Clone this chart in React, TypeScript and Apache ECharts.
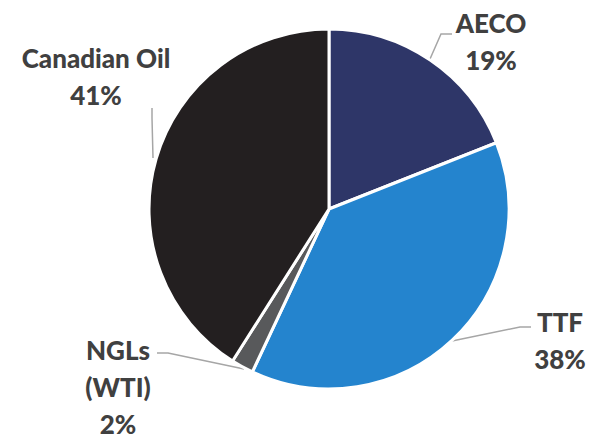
import React, { useEffect, useRef } from "react";
import * as echarts from "echarts";

const categories = ["AECO", "TTF", "NGLs\n(WTI)", "Canadian Oil"];
const values = [19, 38, 2, 41];
const colors = ["#2E3668", "#2484CE", "#58595B", "#231F20"];

// label anchor (text centre) and leader-line points, per slice
const labelPos = [
  { x: 491, y: 41 },
  { x: 560, y: 340 },
  { x: 118, y: 387 },
  { x: 96, y: 76 },
];
const linePts = [
  [[430, 59], [441, 34], [452, 34]],
  [[452, 341], [520, 327], [531, 327]],
  [[244, 369], [168, 353], [157, 353]],
  [[153, 158], [152, 118], [152, 108]],
];

export default function App() {
  const ref = useRef<HTMLDivElement>(null);
  useEffect(() => {
    document.body.style.margin = "0";
    const chart = echarts.init(ref.current!, undefined, { renderer: "svg" });
    chart.setOption({
      animation: false,
      backgroundColor: "#ffffff",
      series: [
        {
          type: "pie",
          center: [329, 209],
          radius: [0, 180],
          startAngle: 90,
          clockwise: true,
          data: categories.map((c, i) => ({
            name: c,
            value: values[i],
            itemStyle: { color: colors[i] },
          })),
          itemStyle: { borderColor: "#ffffff", borderWidth: 3 },
          label: {
            show: true,
            formatter: (p: any) => `${p.name}\n${p.value}%`,
            fontFamily: "Lato",
            fontWeight: 900,
            fontSize: 26,
            lineHeight: 37,
            color: "#404040",
            align: "center",
            overflow: "none",
            width: 220,
          },
          labelLine: {
            show: true,
            lineStyle: { color: "#A6A6A6", width: 1.5 },
          },
          labelLayout: (p: any) => ({
            x: labelPos[p.dataIndex].x,
            y: labelPos[p.dataIndex].y,
            align: "center",
            verticalAlign: "middle",
            labelLinePoints: linePts[p.dataIndex],
          }),
        },
      ],
    });
    return () => chart.dispose();
  }, []);
  return <div ref={ref} style={{ width: 596, height: 435 }} />;
}
